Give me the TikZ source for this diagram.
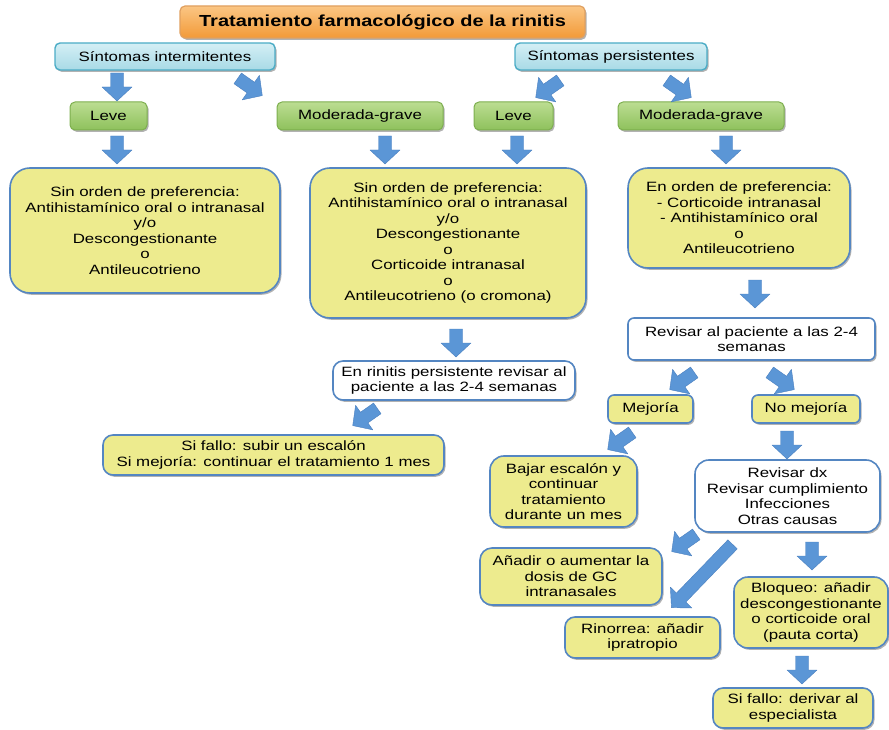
\documentclass[tikz,border=0pt]{standalone}
\usepackage{fontspec}
\setmainfont[FakeStretch=1.25]{Liberation Sans}
\usetikzlibrary{shadows}
\definecolor{yfill}{HTML}{EDEB8E}
\definecolor{bdr}{HTML}{5486C2}
\definecolor{gtop}{HTML}{BCDD92}
\definecolor{gbot}{HTML}{8EC15C}
\definecolor{gbdr}{HTML}{7DAF4E}
\definecolor{btop}{HTML}{D4EFF5}
\definecolor{bbot}{HTML}{A8DAE6}
\definecolor{bbdr}{HTML}{4BACC6}
\definecolor{otop}{HTML}{FBC684}
\definecolor{obot}{HTML}{F29A38}
\definecolor{obdr}{HTML}{E0A060}
\definecolor{afill}{HTML}{5B96D6}
\definecolor{abdr}{HTML}{4A7FBF}
\tikzset{
  base/.style={align=center, inner sep=2pt, font=\fontsize{13.5}{15.5}\selectfont,
    drop shadow={shadow xshift=1.5pt, shadow yshift=-1.8pt, opacity=0.3, fill=black}},
  ybox/.style={base, fill=yfill, draw=bdr, line width=1.6pt, rounded corners=10pt},
  bigy/.style={ybox, rounded corners=20pt},
  wbox/.style={base, fill=white, draw=bdr, line width=1.6pt, rounded corners=10pt},
  gbox/.style={base, top color=gtop, bottom color=gbot, draw=gbdr, line width=1pt, rounded corners=5pt},
  bbox/.style={base, top color=btop, bottom color=bbot, draw=bbdr, line width=1.4pt, rounded corners=5pt},
  tbox/.style={base, top color=otop, bottom color=obot, draw=obdr, line width=1.2pt, rounded corners=5pt,
    font=\fontsize{16}{18}\bfseries\selectfont},
  blk/.style={fill=afill, draw=abdr, line width=0.4pt, line join=round}
}
% block arrow: center x, y, canvas rotation, length
\newcommand{\blkarrow}[4]{%
  \begin{scope}[shift={(#1,#2)}, rotate=#3]
    \filldraw[blk] ({-#4/2},-6.5) -- ({#4/2-14},-6.5) -- ({#4/2-14},-15) -- ({#4/2},0)
      -- ({#4/2-14},15) -- ({#4/2-14},6.5) -- ({-#4/2},6.5) -- cycle;
  \end{scope}}
\begin{document}
\begin{tikzpicture}[x=1pt, y=-1pt]
\useasboundingbox (0,0) rectangle (889,730);

\node[tbox, minimum width=405pt, minimum height=32pt] (title) at (382.5,22) {Tratamiento farmacológico de la rinitis};

\node[bbox, minimum width=220pt, minimum height=27pt] (si) at (165,56.5) {Síntomas intermitentes};
\node[bbox, minimum width=192pt, minimum height=27pt] (sp) at (611,56.5) {Síntomas persistentes};

\node[gbox, minimum width=77pt, minimum height=28pt] (leve1) at (108.5,116) {Leve};
\node[gbox, minimum width=166pt, minimum height=28pt] (mod1) at (360,116) {Moderada-grave};
\node[gbox, minimum width=79pt, minimum height=28pt] (leve2) at (513.5,116) {Leve};
\node[gbox, minimum width=166pt, minimum height=28pt] (mod2) at (701,116) {Moderada-grave};

\node[bigy, minimum width=270pt, minimum height=125pt] (b1) at (145,230.5)
  {Sin orden de preferencia:\\Antihistamínico oral o intranasal\\y/o\\Descongestionante\\o\\Antileucotrieno};
\node[bigy, minimum width=276pt, minimum height=150pt] (b2) at (448,243)
  {Sin orden de preferencia:\\Antihistamínico oral o intranasal\\y/o\\Descongestionante\\o\\Corticoide intranasal\\o\\Antileucotrieno (o cromona)};
\node[bigy, minimum width=222pt, minimum height=100pt] (b3) at (739,218)
  {En orden de preferencia:\\- Corticoide intranasal\\- Antihistamínico oral\\o\\Antileucotrieno};

\node[wbox, minimum width=247pt, minimum height=42pt, rounded corners=6pt] (rev) at (751.5,339)
  {Revisar al paciente a las 2-4\\semanas};
\node[wbox, minimum width=242pt, minimum height=39pt] (rin) at (454,380.5)
  {En rinitis persistente revisar al\\paciente a las 2-4 semanas};
\node[ybox, minimum width=341pt, minimum height=40pt] (sif) at (273.5,455)
  {Si fallo: subir un escalón\\Si mejoría: continuar el tratamiento 1 mes};

\node[ybox, minimum width=85pt, minimum height=28pt, rounded corners=6pt] (mej) at (650.5,409) {Mejoría};
\node[ybox, minimum width=108pt, minimum height=28pt, rounded corners=6pt] (nom) at (806,409) {No mejoría};

\node[ybox, minimum width=147pt, minimum height=71pt, rounded corners=14pt] (baj) at (563.5,491.5)
  {Bajar escalón y\\continuar\\tratamiento\\durante un mes};
\node[wbox, minimum width=185pt, minimum height=72pt, rounded corners=14pt] (rdx) at (787.5,496)
  {Revisar dx\\Revisar cumplimiento\\Infecciones\\Otras causas};

\node[ybox, minimum width=182pt, minimum height=57pt, rounded corners=12pt] (ana) at (571,576.5)
  {Añadir o aumentar la\\dosis de GC\\intranasales};
\node[ybox, minimum width=154pt, minimum height=71pt, rounded corners=14pt] (blo) at (811,612.5)
  {Bloqueo: añadir\\descongestionante\\o corticoide oral\\(pauta corta)};
\node[ybox, minimum width=155pt, minimum height=41pt] (rino) at (642.5,637.5)
  {Rinorrea: añadir\\ipratropio};
\node[ybox, minimum width=160pt, minimum height=40pt] (sfd) at (793,708)
  {Si fallo: derivar al\\especialista};

% block arrows
\blkarrow{117}{87}{-90}{28}
\blkarrow{250}{87}{-35}{30}
\blkarrow{548}{89}{-145}{30}
\blkarrow{679}{89}{-35}{30}
\blkarrow{117}{150}{-90}{28}
\blkarrow{385}{150}{-90}{28}
\blkarrow{517}{150}{-90}{28}
\blkarrow{726}{150}{-90}{28}
\blkarrow{755}{294}{-90}{28}
\blkarrow{456}{343}{-90}{28}
\blkarrow{365}{417}{-145}{30}
\blkarrow{682}{381}{-145}{30}
\blkarrow{782}{381}{-35}{30}
\blkarrow{620}{441}{-145}{30}
\blkarrow{787}{445}{-90}{28}
\blkarrow{684}{543}{-145}{30}
\blkarrow{702}{576}{-134}{88}
\blkarrow{812}{556}{-90}{28}
\blkarrow{802}{670}{-90}{28}
\end{tikzpicture}
\end{document}
